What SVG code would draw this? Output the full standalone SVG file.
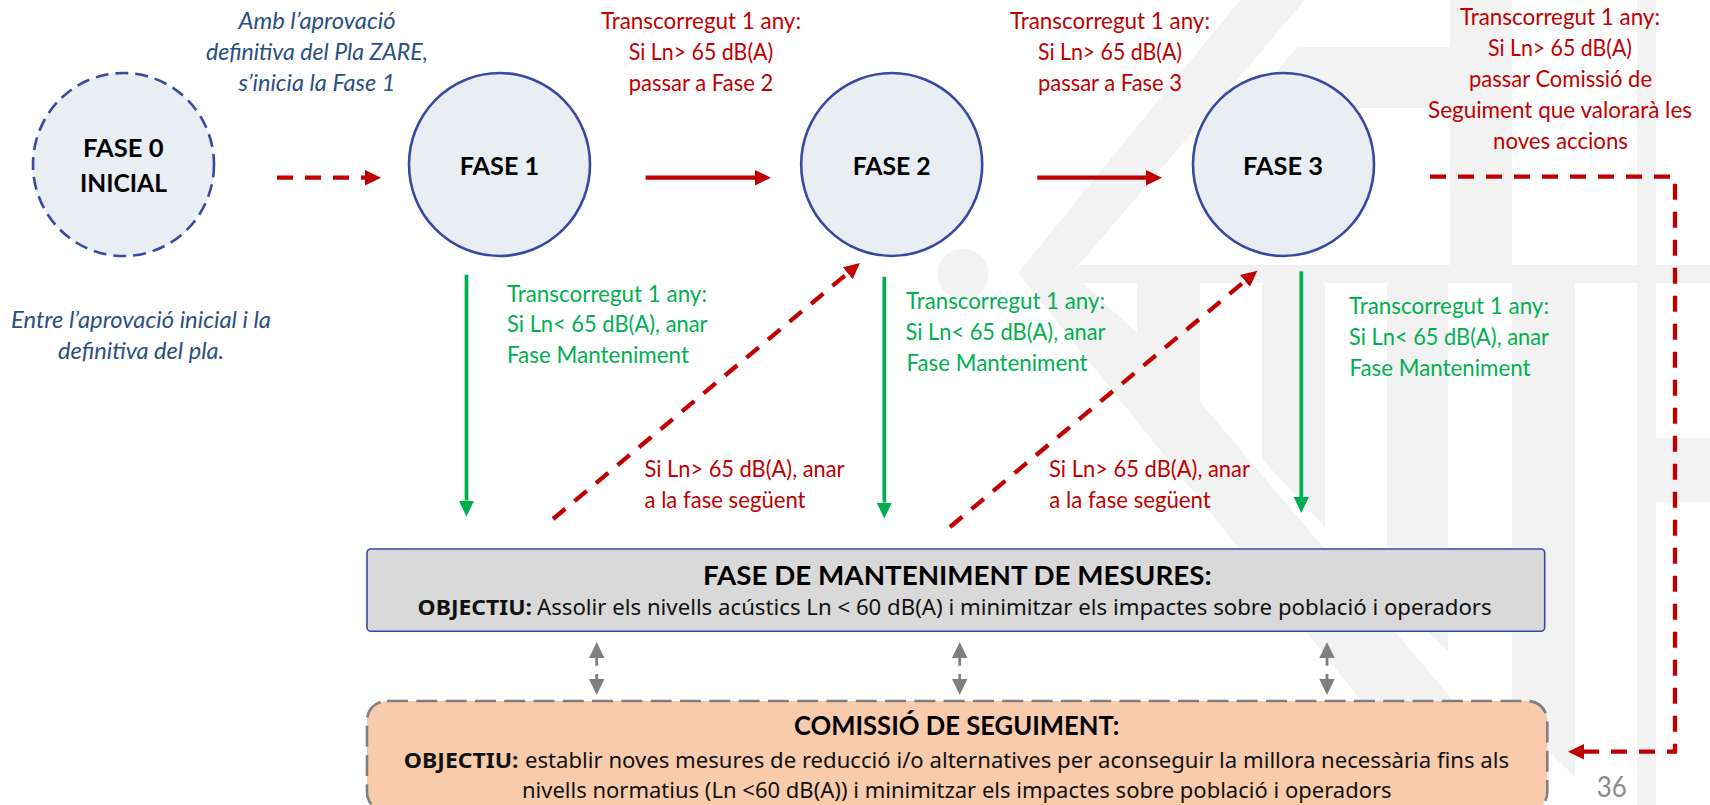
<svg xmlns="http://www.w3.org/2000/svg" width="1710" height="805" viewBox="0 0 1710 805">
<style>
text{font-family:"Lato","Liberation Sans",sans-serif;text-anchor:middle}
.wm{fill:#f2f2f2}
.circle{fill:#e9edf4;stroke:#3949a3;stroke-width:2.6}
.dash0{stroke-dasharray:13 7}
.ph{font-size:25.6px;font-weight:700;fill:#000}
.r,.g,.n{font-size:22.8px}
.r{fill:#c00000}.g{fill:#00b050}
.n{fill:#2b4f81;font-style:italic}
.t{font-size:27px;font-weight:700;fill:#000}
.o{font-family:"Noto Sans","Liberation Sans",sans-serif;font-size:21px;fill:#111}
.ob{font-weight:700}
.pg{font-size:28px;fill:#8b8b8b}
.lr,.lg,.lk{fill:none}
.lr{stroke:#c00000;stroke-width:4.3}
.dash{stroke-dasharray:16 12}
.lg{stroke:#00b050;stroke-width:3.7}
.lk{stroke:#7f7f7f;stroke-width:2.8;stroke-dasharray:7.7 8.3 7}
</style>
<defs>
<marker id="hr" markerUnits="userSpaceOnUse" markerWidth="17" markerHeight="16" refX="0" refY="8" orient="auto"><path d="M0,.3L16,8L0,15.7Z" fill="#c00000"/></marker>
<marker id="hg" markerUnits="userSpaceOnUse" markerWidth="17" markerHeight="16" refX="0" refY="8" orient="auto"><path d="M0,.3L16,8L0,15.7Z" fill="#00b050"/></marker>
<marker id="hk" markerUnits="userSpaceOnUse" markerWidth="17" markerHeight="16" refX="0" refY="8" orient="auto"><path d="M0,.3L16,8L0,15.7Z" fill="#7f7f7f"/></marker>
<marker id="hks" markerUnits="userSpaceOnUse" markerWidth="17" markerHeight="16" refX="16" refY="8" orient="auto"><path d="M16,.3L0,8L16,15.7Z" fill="#7f7f7f"/></marker>
</defs>
<g id="watermark" class="wm">
<path d="M1240,0L1305,0L1072,273L1137,333L1200,402L1453,700L1540,805L1445,805L1018,273Z"/>
<path d="M1072,273L1080,265H1710V283H1080Z"/>
<path d="M1137,283H1200V402L1137,333Z"/>
<path d="M1262,283H1325V527L1262,459Z"/>
<path d="M1387,283H1448V652L1387,590Z"/>
<path d="M1512,283H1575V777L1512,715Z"/>
<path d="M1297,47H1450V108H1246Z"/>
<rect x="1450" y="0" width="62" height="265"/>
<rect x="1637" y="0" width="19" height="805"/>
<rect x="1656" y="438" width="54" height="64"/>
<circle cx="963" cy="274" r="25.5"/>
</g>
<g id="connectors">
<path class="lr dash" d="M277,177.7H365" marker-end="url(#hr)"/>
<path class="lr" d="M645.6,177.7H755" marker-end="url(#hr)"/>
<path class="lr" d="M1037.3,177.7H1146" marker-end="url(#hr)"/>
<path class="lr dash" d="M1430,176.7H1675V751.7H1584" marker-end="url(#hr)" stroke-linejoin="miter"/>
<path class="lg" d="M466.5,274.7V500.5" marker-end="url(#hg)"/>
<path class="lg" d="M884.3,276.7V502.5" marker-end="url(#hg)"/>
<path class="lg" d="M1301.3,271.3V497" marker-end="url(#hg)"/>
<path class="lr dash" d="M553,519L847.7,273.2" marker-end="url(#hr)"/>
<path class="lr dash" d="M950,527L1245,281" marker-end="url(#hr)"/>
<path class="lk" d="M596.7,658V679" marker-start="url(#hks)" marker-end="url(#hk)"/>
<path class="lk" d="M959.7,658V679" marker-start="url(#hks)" marker-end="url(#hk)"/>
<path class="lk" d="M1327,658V679" marker-start="url(#hks)" marker-end="url(#hk)"/>
</g>
<g id="fase0"><ellipse class="circle dash0" cx="123.5" cy="164.5" rx="90.5" ry="91.5"/>
<text class="ph" x="123.3" y="156.7" textLength="80.5" lengthAdjust="spacingAndGlyphs">FASE 0</text>
<text class="ph" x="123.5" y="191.7" textLength="87" lengthAdjust="spacingAndGlyphs">INICIAL</text></g>
<g id="fase1"><ellipse class="circle" cx="499.5" cy="164.5" rx="90.5" ry="91.5"/>
<text class="ph" x="499.5" y="175" textLength="79.5" lengthAdjust="spacingAndGlyphs">FASE 1</text></g>
<g id="fase2"><ellipse class="circle" cx="891.7" cy="164.5" rx="90.5" ry="91.5"/>
<text class="ph" x="891.7" y="175" textLength="78" lengthAdjust="spacingAndGlyphs">FASE 2</text></g>
<g id="fase3"><ellipse class="circle" cx="1283.5" cy="164.5" rx="90.5" ry="91.5"/>
<text class="ph" x="1283" y="175" textLength="80" lengthAdjust="spacingAndGlyphs">FASE 3</text></g>
<g id="note-fase1">
<text class="n" x="317" y="29" textLength="157" lengthAdjust="spacingAndGlyphs">Amb l’aprovació</text>
<text class="n" x="317" y="60" textLength="222" lengthAdjust="spacingAndGlyphs">definitiva del Pla ZARE,</text>
<text class="n" x="317" y="91" textLength="157" lengthAdjust="spacingAndGlyphs">s’inicia la Fase 1</text></g>
<g id="note-fase0">
<text class="n" x="141" y="328" textLength="260" lengthAdjust="spacingAndGlyphs">Entre l’aprovació inicial i la</text>
<text class="n" x="141" y="359" textLength="166" lengthAdjust="spacingAndGlyphs">definitiva del pla.</text></g>
<g id="red-1">
<text class="r" x="701" y="29" textLength="200" lengthAdjust="spacingAndGlyphs">Transcorregut 1 any:</text>
<text class="r" x="701" y="60" textLength="144.5" lengthAdjust="spacingAndGlyphs">Si Ln&gt; 65 dB(A)</text>
<text class="r" x="701" y="91" textLength="144.5" lengthAdjust="spacingAndGlyphs">passar a Fase 2</text></g>
<g id="red-2">
<text class="r" x="1110" y="29" textLength="200" lengthAdjust="spacingAndGlyphs">Transcorregut 1 any:</text>
<text class="r" x="1110" y="60" textLength="144" lengthAdjust="spacingAndGlyphs">Si Ln&gt; 65 dB(A)</text>
<text class="r" x="1110" y="91" textLength="144" lengthAdjust="spacingAndGlyphs">passar a Fase 3</text></g>
<g id="red-3">
<text class="r" x="1560" y="25" textLength="200" lengthAdjust="spacingAndGlyphs">Transcorregut 1 any:</text>
<text class="r" x="1560" y="55.7" textLength="144" lengthAdjust="spacingAndGlyphs">Si Ln&gt; 65 dB(A)</text>
<text class="r" x="1560.5" y="87.3" textLength="183" lengthAdjust="spacingAndGlyphs">passar Comissió de</text>
<text class="r" x="1560" y="118" textLength="264" lengthAdjust="spacingAndGlyphs">Seguiment que valorarà les</text>
<text class="r" x="1560.5" y="149" textLength="135" lengthAdjust="spacingAndGlyphs">noves accions</text></g>
<g id="green-1">
<text class="g" x="607" y="301.7" textLength="200" lengthAdjust="spacingAndGlyphs">Transcorregut 1 any:</text>
<text class="g" x="607.3" y="332.3" textLength="200.6" lengthAdjust="spacingAndGlyphs">Si Ln&lt; 65 dB(A), anar</text>
<text class="g" x="598" y="363" textLength="182" lengthAdjust="spacingAndGlyphs">Fase Manteniment</text></g>
<g id="green-2">
<text class="g" x="1005.5" y="309.3" textLength="199" lengthAdjust="spacingAndGlyphs">Transcorregut 1 any:</text>
<text class="g" x="1005.5" y="340" textLength="200" lengthAdjust="spacingAndGlyphs">Si Ln&lt; 65 dB(A), anar</text>
<text class="g" x="997" y="370.7" textLength="181" lengthAdjust="spacingAndGlyphs">Fase Manteniment</text></g>
<g id="green-3">
<text class="g" x="1449" y="314" textLength="200" lengthAdjust="spacingAndGlyphs">Transcorregut 1 any:</text>
<text class="g" x="1449" y="345" textLength="200" lengthAdjust="spacingAndGlyphs">Si Ln&lt; 65 dB(A), anar</text>
<text class="g" x="1440" y="376" textLength="181" lengthAdjust="spacingAndGlyphs">Fase Manteniment</text></g>
<g id="next-1">
<text class="r" x="744.5" y="477.3" textLength="200" lengthAdjust="spacingAndGlyphs">Si Ln&gt; 65 dB(A), anar</text>
<text class="r" x="725" y="508" textLength="161" lengthAdjust="spacingAndGlyphs">a la fase següent</text></g>
<g id="next-2">
<text class="r" x="1149.5" y="477.3" textLength="201" lengthAdjust="spacingAndGlyphs">Si Ln&gt; 65 dB(A), anar</text>
<text class="r" x="1130" y="508" textLength="161.5" lengthAdjust="spacingAndGlyphs">a la fase següent</text></g>
<g id="manteniment">
<rect x="367" y="549" width="1177.7" height="82.3" rx="4" fill="#d9d9d9" stroke="#3949a3" stroke-width="1.6"/>
<text class="t" x="957.3" y="585" textLength="508.7" lengthAdjust="spacingAndGlyphs">FASE DE MANTENIMENT DE MESURES:</text>
<text class="o ob" x="474.8" y="615" textLength="114.5" lengthAdjust="spacingAndGlyphs">OBJECTIU:</text>
<text class="o" x="1014.3" y="615" textLength="954.7" lengthAdjust="spacingAndGlyphs">Assolir els nivells acústics Ln &lt; 60 dB(A) i minimitzar els impactes sobre població i operadors</text>
</g>
<g id="comissio">
<rect x="367" y="701" width="1180.3" height="111" rx="20" fill="#f8cbad" stroke="#7f7f7f" stroke-width="2.6" stroke-dasharray="21 8.3"/>
<text class="t" x="956.6" y="735" textLength="325.3" lengthAdjust="spacingAndGlyphs">COMISSIÓ DE SEGUIMENT:</text>
<text class="o ob" x="461.2" y="768" textLength="114.8" lengthAdjust="spacingAndGlyphs">OBJECTIU:</text>
<text class="o" x="1017" y="768" textLength="984" lengthAdjust="spacingAndGlyphs">establir noves mesures de reducció i/o alternatives per aconseguir la millora necessària fins als</text>
<text class="o" x="956.8" y="798" textLength="869.7" lengthAdjust="spacingAndGlyphs">nivells normatius (Ln &lt;60 dB(A)) i minimitzar els impactes sobre població i operadors</text>
</g>
<text id="page" class="pg" x="1611.7" y="797" textLength="30" lengthAdjust="spacingAndGlyphs">36</text>
</svg>
